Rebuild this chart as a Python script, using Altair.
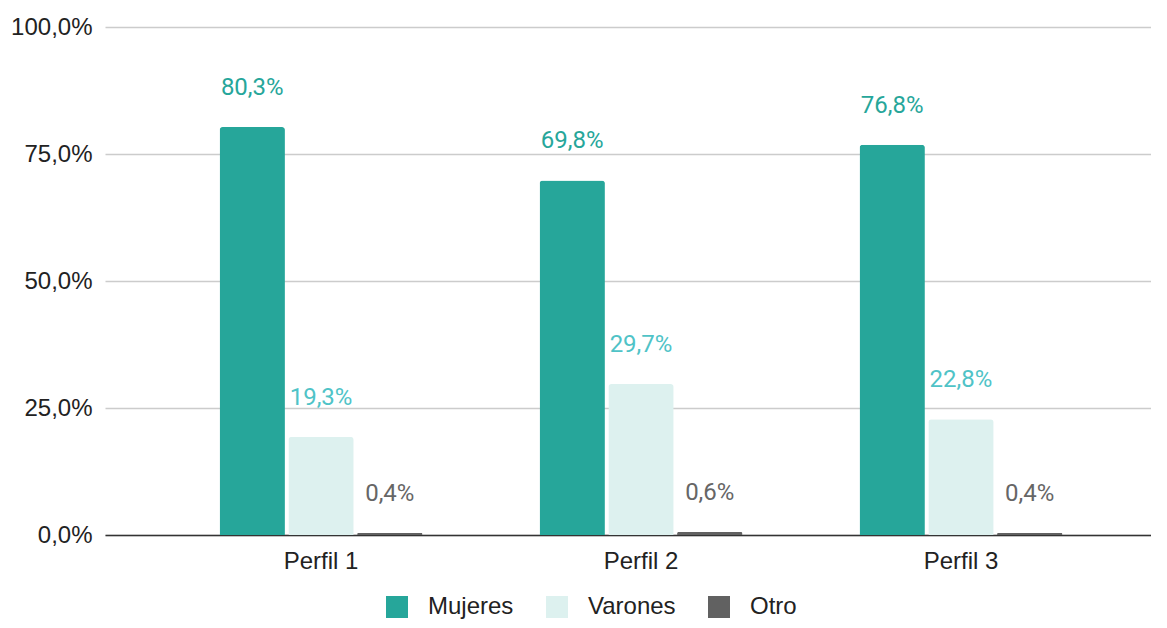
import altair as alt
import pandas as pd

categories = ["Perfil 1", "Perfil 2", "Perfil 3"]
series = ["Mujeres", "Varones", "Otro"]
mujeres = [80.3, 69.8, 76.8]
varones = [19.3, 29.7, 22.8]
otro = [0.4, 0.6, 0.4]

rows = []
for s, vals in zip(series, [mujeres, varones, otro]):
    for c, v in zip(categories, vals):
        rows.append({"perfil": c, "serie": s, "valor": v / 100})
df = pd.DataFrame(rows)

bar_colors = ["#26a69a", "#ddf1ef", "#616161"]
label_colors = ["#26a69a", "#4fc3c7", "#666666"]

x = alt.X("perfil:N", sort=categories, title=None,
          scale=alt.Scale(paddingInner=0.366, paddingOuter=0.3175, align=0.564),
          axis=alt.Axis(labelAngle=0, labelFontSize=24, labelFont="Liberation Sans",
                        labelColor="#222222", labelPadding=14, ticks=False,
                        domainColor="#333333", domainWidth=1.5))
xo = alt.XOffset("serie:N", sort=series, scale=alt.Scale(paddingInner=0.05, paddingOuter=0))
y = alt.Y("valor:Q", title=None,
          scale=alt.Scale(domain=[0, 1]),
          axis=alt.Axis(values=[0, 0.25, 0.5, 0.75, 1],
                        labelExpr="replace(format(datum.value, '.1%'), '.', ',')",
                        labelFontSize=24, labelFont="Liberation Sans", labelColor="#222222",
                        labelPadding=13, ticks=False, domain=False,
                        gridColor="#cccccc", gridWidth=1.5))

bars = alt.Chart(df).mark_bar(cornerRadiusTopLeft=3, cornerRadiusTopRight=3).encode(
    x=x, xOffset=xo, y=y,
    color=alt.Color("serie:N", sort=series,
                    scale=alt.Scale(domain=series, range=bar_colors),
                    legend=alt.Legend(title=None, orient="none", direction="horizontal",
                                      legendX=280, legendY=568,
                                      symbolType="square", symbolSize=484,
                                      symbolStrokeWidth=0, labelFontSize=24,
                                      labelFont="Liberation Sans", labelColor="#222222",
                                      labelOffset=19, columnPadding=31)),
)

labels = alt.Chart(df).transform_calculate(
    txt="replace(format(datum.valor, '.1%'), '.', ',')"
).mark_text(dy=-39, baseline="middle", fontSize=24, font="Roboto").encode(
    x=x, xOffset=xo, y=y,
    text="txt:N",
    color=alt.Color("serie:N", sort=series,
                    scale=alt.Scale(domain=series, range=label_colors), legend=None),
)

chart = alt.layer(bars, labels).resolve_scale(color="independent").properties(
    width=1046, height=508,
    padding={"left": 97, "top": 19, "right": 0, "bottom": 89},
    autosize=alt.AutoSizeParams(type="none"),
).configure_view(stroke=None)

chart.save("out.html", embed_options={"renderer": "svg", "actions": False})
